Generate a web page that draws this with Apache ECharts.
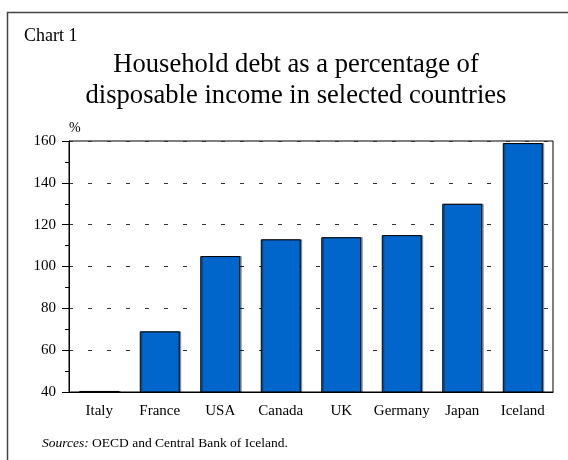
<!DOCTYPE html>
<html>
<head>
<meta charset="utf-8">
<script src="https://cdn.jsdelivr.net/npm/echarts@6/dist/echarts.min.js"></script>
<style>
  html, body { margin: 0; padding: 0; background: #fff; }
  #chart { width: 568px; height: 460px; }
</style>
</head>
<body>
<div id="chart"></div>
<script>
// data
const countries = ['Italy', 'France', 'USA', 'Canada', 'UK', 'Germany', 'Japan', 'Iceland'];
const debtShare = [40.5, 69, 105, 113, 114, 115, 130, 159];
const yTicks = { min: 40, max: 160, step: 20 };

const serif = "'Liberation Serif', 'Times New Roman', serif";

const chart = echarts.init(document.getElementById('chart'));

const option = {
    animation: false,
    backgroundColor: '#fff',
    grid: {
        left: 69,
        right: 15,
        top: 141,
        bottom: 68,
        show: true,
        borderColor: '#000',
        borderWidth: 1
    },
    graphic: [
        // outer frame, only left/top edges fall inside the picture
        {
            type: 'rect',
            shape: { x: 7.5, y: 12.5, width: 620, height: 520 },
            style: { fill: 'none', stroke: '#444', lineWidth: 1.5 },
            silent: true
        },
        {
            type: 'text',
            style: {
                text: 'Chart 1', x: 24, y: 36,
                font: '18px ' + serif, fill: '#000',
                textAlign: 'left', textVerticalAlign: 'middle'
            }
        },
        {
            type: 'text',
            style: {
                text: 'Household debt as a percentage of\ndisposable income in selected countries',
                x: 296, y: 50, lineHeight: 31,
                font: '26.6px ' + serif, fill: '#000',
                textAlign: 'center', textVerticalAlign: 'top'
            }
        },
        {
            type: 'text',
            style: {
                text: '%', x: 69, y: 128,
                font: '14px ' + serif, fill: '#000',
                textAlign: 'left', textVerticalAlign: 'middle'
            }
        },
        {
            type: 'text',
            style: {
                text: '{i|Sources:} OECD and Central Bank of Iceland.',
                x: 42, y: 443,
                font: '13.5px ' + serif, fill: '#000',
                textAlign: 'left', textVerticalAlign: 'middle',
                rich: {
                    i: { fontStyle: 'italic', fontSize: 13.5, fontFamily: serif }
                }
            }
        }
    ],
    xAxis: {
        type: 'category',
        data: countries,
        axisLine: { lineStyle: { color: '#000', width: 1 } },
        axisTick: { alignWithLabel: true, length: 5, lineStyle: { color: '#000' } },
        axisLabel: { color: '#000', fontFamily: serif, fontSize: 15, margin: 12, interval: 0 },
        splitLine: { show: false }
    },
    yAxis: {
        type: 'value',
        min: yTicks.min,
        max: yTicks.max,
        interval: yTicks.step,
        axisLine: { show: true, lineStyle: { color: '#000', width: 1 } },
        axisTick: { show: true, length: 7, lineStyle: { color: '#000' } },
        minorTick: { show: true, splitNumber: 2, length: 4, lineStyle: { color: '#000' } },
        axisLabel: { color: '#000', fontFamily: serif, fontSize: 15, margin: 13 },
        splitLine: {
            show: true,
            lineStyle: { color: '#333', width: 1, type: [4, 15] }
        }
    },
    series: [
        {
            type: 'bar',
            data: debtShare,
            barWidth: 40,
            itemStyle: {
                color: '#0066cc',
                borderColor: '#000',
                borderWidth: 1,
                shadowColor: 'rgba(0,0,0,0.35)',
                shadowOffsetX: 1.5,
                shadowBlur: 0
            }
        }
    ]
};

chart.setOption(option);
</script>
</body>
</html>
